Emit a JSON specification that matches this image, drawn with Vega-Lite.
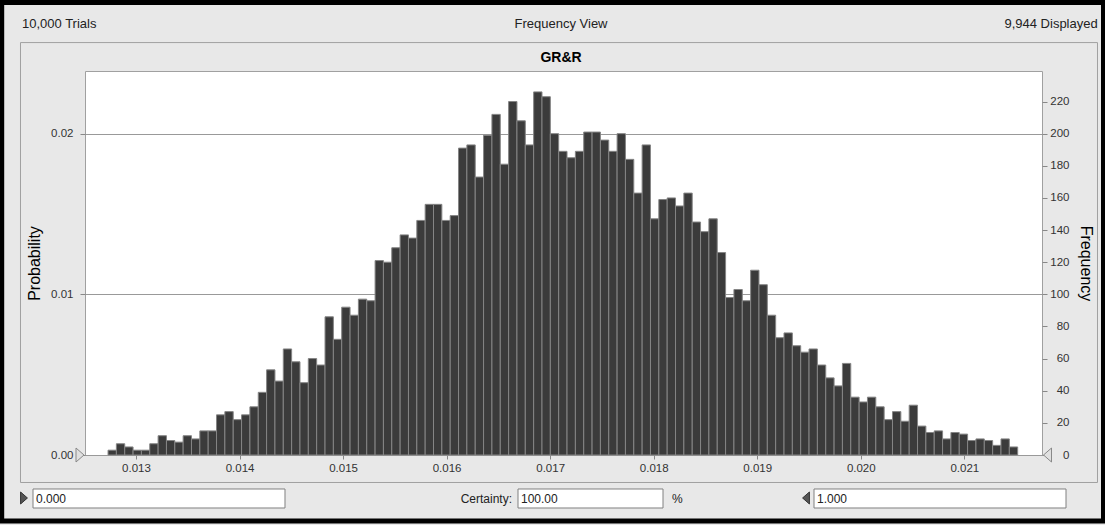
{
  "$schema": "https://vega.github.io/schema/vega-lite/v6.json",
  "width": 957,
  "height": 384,
  "autosize": {"type": "none"},
  "padding": {"left": 85, "top": 71, "right": 63, "bottom": 70},
  "background": "#e8e8e8",
  "view": {"fill": "white", "stroke": "#a0a0a0", "strokeWidth": 1},
  "config": {
    "font": "Liberation Sans",
    "scale": {"continuousPadding": 0},
    "axis": {"labelFont": "Liberation Sans", "titleFont": "Liberation Sans", "labelColor": "#333333", "titleColor": "#000000", "titleFontWeight": "normal", "tickColor": "#888888", "domain": false}
  },
  "data": {"values": [
    {"lo":0.0127300,"hi":0.0128106,"n":3},{"lo":0.0128106,"hi":0.0128912,"n":7},{"lo":0.0128912,"hi":0.0129718,"n":5},{"lo":0.0129718,"hi":0.0130524,"n":3},{"lo":0.0130524,"hi":0.0131330,"n":3},
    {"lo":0.0131330,"hi":0.0132136,"n":7},{"lo":0.0132136,"hi":0.0132942,"n":12},{"lo":0.0132942,"hi":0.0133748,"n":9},{"lo":0.0133748,"hi":0.0134554,"n":8},{"lo":0.0134554,"hi":0.0135360,"n":12},
    {"lo":0.0135360,"hi":0.0136166,"n":10},{"lo":0.0136166,"hi":0.0136972,"n":15},{"lo":0.0136972,"hi":0.0137778,"n":15},{"lo":0.0137778,"hi":0.0138584,"n":25},{"lo":0.0138584,"hi":0.0139390,"n":27},
    {"lo":0.0139390,"hi":0.0140196,"n":22},{"lo":0.0140196,"hi":0.0141002,"n":25},{"lo":0.0141002,"hi":0.0141808,"n":30},{"lo":0.0141808,"hi":0.0142614,"n":39},{"lo":0.0142614,"hi":0.0143420,"n":53},
    {"lo":0.0143420,"hi":0.0144226,"n":46},{"lo":0.0144226,"hi":0.0145032,"n":66},{"lo":0.0145032,"hi":0.0145838,"n":58},{"lo":0.0145838,"hi":0.0146644,"n":45},{"lo":0.0146644,"hi":0.0147450,"n":60},
    {"lo":0.0147450,"hi":0.0148256,"n":56},{"lo":0.0148256,"hi":0.0149062,"n":86},{"lo":0.0149062,"hi":0.0149868,"n":72},{"lo":0.0149868,"hi":0.0150674,"n":92},{"lo":0.0150674,"hi":0.0151480,"n":87},
    {"lo":0.0151480,"hi":0.0152286,"n":97},{"lo":0.0152286,"hi":0.0153092,"n":96},{"lo":0.0153092,"hi":0.0153898,"n":121},{"lo":0.0153898,"hi":0.0154704,"n":120},{"lo":0.0154704,"hi":0.0155510,"n":129},
    {"lo":0.0155510,"hi":0.0156316,"n":137},{"lo":0.0156316,"hi":0.0157122,"n":135},{"lo":0.0157122,"hi":0.0157928,"n":146},{"lo":0.0157928,"hi":0.0158734,"n":156},{"lo":0.0158734,"hi":0.0159540,"n":156},
    {"lo":0.0159540,"hi":0.0160346,"n":146},{"lo":0.0160346,"hi":0.0161152,"n":149},{"lo":0.0161152,"hi":0.0161958,"n":191},{"lo":0.0161958,"hi":0.0162764,"n":193},{"lo":0.0162764,"hi":0.0163570,"n":173},
    {"lo":0.0163570,"hi":0.0164376,"n":199},{"lo":0.0164376,"hi":0.0165182,"n":212},{"lo":0.0165182,"hi":0.0165988,"n":181},{"lo":0.0165988,"hi":0.0166794,"n":220},{"lo":0.0166794,"hi":0.0167600,"n":208},
    {"lo":0.0167600,"hi":0.0168406,"n":193},{"lo":0.0168406,"hi":0.0169212,"n":226},{"lo":0.0169212,"hi":0.0170018,"n":223},{"lo":0.0170018,"hi":0.0170824,"n":200},{"lo":0.0170824,"hi":0.0171630,"n":189},
    {"lo":0.0171630,"hi":0.0172436,"n":185},{"lo":0.0172436,"hi":0.0173242,"n":189},{"lo":0.0173242,"hi":0.0174048,"n":201},{"lo":0.0174048,"hi":0.0174854,"n":201},{"lo":0.0174854,"hi":0.0175660,"n":196},
    {"lo":0.0175660,"hi":0.0176466,"n":189},{"lo":0.0176466,"hi":0.0177272,"n":200},{"lo":0.0177272,"hi":0.0178078,"n":184},{"lo":0.0178078,"hi":0.0178884,"n":163},{"lo":0.0178884,"hi":0.0179690,"n":193},
    {"lo":0.0179690,"hi":0.0180496,"n":147},{"lo":0.0180496,"hi":0.0181302,"n":159},{"lo":0.0181302,"hi":0.0182108,"n":160},{"lo":0.0182108,"hi":0.0182914,"n":155},{"lo":0.0182914,"hi":0.0183720,"n":163},
    {"lo":0.0183720,"hi":0.0184526,"n":145},{"lo":0.0184526,"hi":0.0185332,"n":139},{"lo":0.0185332,"hi":0.0186138,"n":147},{"lo":0.0186138,"hi":0.0186944,"n":126},{"lo":0.0186944,"hi":0.0187750,"n":98},
    {"lo":0.0187750,"hi":0.0188556,"n":103},{"lo":0.0188556,"hi":0.0189362,"n":96},{"lo":0.0189362,"hi":0.0190168,"n":115},{"lo":0.0190168,"hi":0.0190974,"n":106},{"lo":0.0190974,"hi":0.0191780,"n":87},
    {"lo":0.0191780,"hi":0.0192586,"n":73},{"lo":0.0192586,"hi":0.0193392,"n":76},{"lo":0.0193392,"hi":0.0194198,"n":68},{"lo":0.0194198,"hi":0.0195004,"n":64},{"lo":0.0195004,"hi":0.0195810,"n":66},
    {"lo":0.0195810,"hi":0.0196616,"n":56},{"lo":0.0196616,"hi":0.0197422,"n":48},{"lo":0.0197422,"hi":0.0198228,"n":43},{"lo":0.0198228,"hi":0.0199034,"n":57},{"lo":0.0199034,"hi":0.0199840,"n":36},
    {"lo":0.0199840,"hi":0.0200646,"n":33},{"lo":0.0200646,"hi":0.0201452,"n":36},{"lo":0.0201452,"hi":0.0202258,"n":30},{"lo":0.0202258,"hi":0.0203064,"n":22},{"lo":0.0203064,"hi":0.0203870,"n":27},
    {"lo":0.0203870,"hi":0.0204676,"n":21},{"lo":0.0204676,"hi":0.0205482,"n":31},{"lo":0.0205482,"hi":0.0206288,"n":18},{"lo":0.0206288,"hi":0.0207094,"n":14},{"lo":0.0207094,"hi":0.0207900,"n":15},
    {"lo":0.0207900,"hi":0.0208706,"n":10},{"lo":0.0208706,"hi":0.0209512,"n":14},{"lo":0.0209512,"hi":0.0210318,"n":13},{"lo":0.0210318,"hi":0.0211124,"n":9},{"lo":0.0211124,"hi":0.0211930,"n":10},
    {"lo":0.0211930,"hi":0.0212736,"n":9},{"lo":0.0212736,"hi":0.0213542,"n":6},{"lo":0.0213542,"hi":0.0214348,"n":10},{"lo":0.0214348,"hi":0.0215154,"n":5}
  ]},
  "layer": [
    {
      "mark": {"type": "bar", "fill": "#3b3b3b", "stroke": "#858585", "strokeWidth": 1, "orient": "vertical"},
      "encoding": {
        "x": {"field": "lo", "type": "quantitative", "scale": {"domain": [0.0125075, 0.0217503], "nice": false, "zero": false, "padding": 0},
              "axis": {"orient": "bottom", "values": [0.013, 0.014, 0.015, 0.016, 0.017, 0.018, 0.019, 0.02, 0.021], "format": ".3f", "title": null, "tickSize": 4, "labelPadding": 3, "labelFontSize": 11.5, "grid": false}},
        "x2": {"field": "hi"},
        "y": {"field": "n", "type": "quantitative", "scale": {"domain": [0, 239], "nice": false, "zero": false, "padding": 0},
              "axis": {"orient": "left", "values": [0, 100, 200], "labelExpr": "format(datum.value / 10000, '.2f')", "title": "Probability", "titleFontSize": 16, "titlePadding": 8, "tickSize": 5, "labelPadding": 7, "labelFontSize": 11.5, "grid": true, "gridColor": "#999999"}},
        "y2": {"datum": 0}
      }
    },
    {
      "mark": {"type": "point", "opacity": 0},
      "encoding": {
        "x": {"field": "lo", "type": "quantitative", "scale": {"domain": [0.0125075, 0.0217503], "nice": false, "zero": false, "padding": 0}, "axis": null},
        "y": {"field": "n", "type": "quantitative", "scale": {"domain": [0, 239], "nice": false, "zero": false, "padding": 0},
              "axis": {"orient": "right", "values": [0, 20, 40, 60, 80, 100, 120, 140, 160, 180, 200, 220], "title": "Frequency", "titleFontSize": 16, "titlePadding": 8, "tickSize": 5, "labelAlign": "right", "labelPadding": 22, "labelFontSize": 11.5, "grid": false}}
      }
    },
    {
      "data": {"values": [{}]},
      "layer": [
        {"mark": {"type": "rect", "fillOpacity": 0, "stroke": "#000", "strokeWidth": 5, "clip": false},
         "encoding": {
           "x": {"datum": 0.0117030, "type": "quantitative", "scale": {"domain": [0.0125075, 0.0217503], "nice": false, "zero": false, "padding": 0}, "axis": null},
           "x2": {"datum": 0.0223443},
           "y": {"datum": 281.6, "type": "quantitative", "scale": {"domain": [0, 239], "nice": false, "zero": false, "padding": 0}, "axis": null},
           "y2": {"datum": -41.1}}},
        {"mark": {"type": "rect", "fillOpacity": 0, "stroke": "#a0a0a0", "strokeWidth": 1, "clip": false},
         "encoding": {
           "x": {"datum": 0.01188455, "type": "quantitative", "scale": {"domain": [0.0125075, 0.0217503], "nice": false, "zero": false, "padding": 0}, "axis": null},
           "x2": {"datum": 0.0222863},
           "y": {"datum": 256.69, "type": "quantitative", "scale": {"domain": [0, 239], "nice": false, "zero": false, "padding": 0}, "axis": null},
           "y2": {"datum": -17.11}}},
        {"mark": {"type": "text", "text": "10,000 Trials", "align": "left", "baseline": "alphabetic", "fontSize": 13, "color": "#222"},
         "encoding": {
           "x": {"datum": 0.011899, "type": "quantitative", "scale": {"domain": [0.0125075, 0.0217503], "nice": false, "zero": false, "padding": 0}, "axis": null},
           "y": {"datum": 265.7, "type": "quantitative", "scale": {"domain": [0, 239], "nice": false, "zero": false, "padding": 0}, "axis": null}}},
        {"mark": {"type": "text", "text": "Frequency View", "align": "center", "baseline": "alphabetic", "fontSize": 13, "color": "#222"},
         "encoding": {
           "x": {"datum": 0.0171048, "type": "quantitative", "scale": {"domain": [0.0125075, 0.0217503], "nice": false, "zero": false, "padding": 0}, "axis": null},
           "y": {"datum": 265.7, "type": "quantitative", "scale": {"domain": [0, 239], "nice": false, "zero": false, "padding": 0}, "axis": null}}},
        {"mark": {"type": "text", "text": "9,944 Displayed", "align": "right", "baseline": "alphabetic", "fontSize": 13, "color": "#222"},
         "encoding": {
           "x": {"datum": 0.0222882, "type": "quantitative", "scale": {"domain": [0.0125075, 0.0217503], "nice": false, "zero": false, "padding": 0}, "axis": null},
           "y": {"datum": 265.7, "type": "quantitative", "scale": {"domain": [0, 239], "nice": false, "zero": false, "padding": 0}, "axis": null}}},
        {"mark": {"type": "text", "text": "GR&R", "align": "center", "baseline": "alphabetic", "fontSize": 14, "fontWeight": "bold", "color": "#000"},
         "encoding": {
           "x": {"datum": 0.0171048, "type": "quantitative", "scale": {"domain": [0.0125075, 0.0217503], "nice": false, "zero": false, "padding": 0}, "axis": null},
           "y": {"datum": 244.55, "type": "quantitative", "scale": {"domain": [0, 239], "nice": false, "zero": false, "padding": 0}, "axis": null}}},
        {"mark": {"type": "point", "shape": "M-0.57,-1L0.57,0L-0.57,1Z", "size": 196, "filled": true, "fill": "#e0e0e0", "stroke": "#888", "strokeWidth": 1, "opacity": 1, "clip": false},
         "encoding": {
           "x": {"datum": 0.0124592, "type": "quantitative", "scale": {"domain": [0.0125075, 0.0217503], "nice": false, "zero": false, "padding": 0}, "axis": null},
           "y": {"datum": 0, "type": "quantitative", "scale": {"domain": [0, 239], "nice": false, "zero": false, "padding": 0}, "axis": null}}},
        {"mark": {"type": "point", "shape": "M0.57,-1L-0.57,0L0.57,1Z", "size": 196, "filled": true, "fill": "#e0e0e0", "stroke": "#888", "strokeWidth": 1, "opacity": 1, "clip": false},
         "encoding": {
           "x": {"datum": 0.0218034, "type": "quantitative", "scale": {"domain": [0.0125075, 0.0217503], "nice": false, "zero": false, "padding": 0}, "axis": null},
           "y": {"datum": 0, "type": "quantitative", "scale": {"domain": [0, 239], "nice": false, "zero": false, "padding": 0}, "axis": null}}},
        {"mark": {"type": "rect", "fill": "white", "stroke": "#808080", "strokeWidth": 1, "clip": false},
         "encoding": {
           "x": {"datum": 0.0120053, "type": "quantitative", "scale": {"domain": [0.0125075, 0.0217503], "nice": false, "zero": false, "padding": 0}, "axis": null},
           "x2": {"datum": 0.0144391},
           "y": {"datum": -21.16, "type": "quantitative", "scale": {"domain": [0, 239], "nice": false, "zero": false, "padding": 0}, "axis": null},
           "y2": {"datum": -32.98}}},
        {"mark": {"type": "rect", "fill": "white", "stroke": "#808080", "strokeWidth": 1, "clip": false},
         "encoding": {
           "x": {"datum": 0.0166895, "type": "quantitative", "scale": {"domain": [0.0125075, 0.0217503], "nice": false, "zero": false, "padding": 0}, "axis": null},
           "x2": {"datum": 0.0180899},
           "y": {"datum": -21.16, "type": "quantitative", "scale": {"domain": [0, 239], "nice": false, "zero": false, "padding": 0}, "axis": null},
           "y2": {"datum": -32.98}}},
        {"mark": {"type": "rect", "fill": "white", "stroke": "#808080", "strokeWidth": 1, "clip": false},
         "encoding": {
           "x": {"datum": 0.0195483, "type": "quantitative", "scale": {"domain": [0.0125075, 0.0217503], "nice": false, "zero": false, "padding": 0}, "axis": null},
           "x2": {"datum": 0.0219821},
           "y": {"datum": -21.16, "type": "quantitative", "scale": {"domain": [0, 239], "nice": false, "zero": false, "padding": 0}, "axis": null},
           "y2": {"datum": -32.98}}},
        {"mark": {"type": "text", "text": "0.000", "align": "left", "baseline": "alphabetic", "fontSize": 12, "color": "#222"},
         "encoding": {
           "x": {"datum": 0.0120343, "type": "quantitative", "scale": {"domain": [0.0125075, 0.0217503], "nice": false, "zero": false, "padding": 0}, "axis": null},
           "y": {"datum": -29.87, "type": "quantitative", "scale": {"domain": [0, 239], "nice": false, "zero": false, "padding": 0}, "axis": null}}},
        {"mark": {"type": "text", "text": "100.00", "align": "left", "baseline": "alphabetic", "fontSize": 12, "color": "#222"},
         "encoding": {
           "x": {"datum": 0.0167184, "type": "quantitative", "scale": {"domain": [0.0125075, 0.0217503], "nice": false, "zero": false, "padding": 0}, "axis": null},
           "y": {"datum": -29.87, "type": "quantitative", "scale": {"domain": [0, 239], "nice": false, "zero": false, "padding": 0}, "axis": null}}},
        {"mark": {"type": "text", "text": "1.000", "align": "left", "baseline": "alphabetic", "fontSize": 12, "color": "#222"},
         "encoding": {
           "x": {"datum": 0.0195772, "type": "quantitative", "scale": {"domain": [0.0125075, 0.0217503], "nice": false, "zero": false, "padding": 0}, "axis": null},
           "y": {"datum": -29.87, "type": "quantitative", "scale": {"domain": [0, 239], "nice": false, "zero": false, "padding": 0}, "axis": null}}},
        {"mark": {"type": "text", "text": "Certainty:", "align": "right", "baseline": "alphabetic", "fontSize": 12, "color": "#222"},
         "encoding": {
           "x": {"datum": 0.0166315, "type": "quantitative", "scale": {"domain": [0.0125075, 0.0217503], "nice": false, "zero": false, "padding": 0}, "axis": null},
           "y": {"datum": -29.87, "type": "quantitative", "scale": {"domain": [0, 239], "nice": false, "zero": false, "padding": 0}, "axis": null}}},
        {"mark": {"type": "text", "text": "%", "align": "left", "baseline": "alphabetic", "fontSize": 12, "color": "#222"},
         "encoding": {
           "x": {"datum": 0.0181768, "type": "quantitative", "scale": {"domain": [0.0125075, 0.0217503], "nice": false, "zero": false, "padding": 0}, "axis": null},
           "y": {"datum": -29.87, "type": "quantitative", "scale": {"domain": [0, 239], "nice": false, "zero": false, "padding": 0}, "axis": null}}},
        {"mark": {"type": "point", "shape": "M-0.57,-1L0.57,0L-0.57,1Z", "size": 144, "filled": true, "fill": "#555", "stroke": "#333", "strokeWidth": 1, "opacity": 1, "clip": false},
         "encoding": {
           "x": {"datum": 0.0119184, "type": "quantitative", "scale": {"domain": [0.0125075, 0.0217503], "nice": false, "zero": false, "padding": 0}, "axis": null},
           "y": {"datum": -26.76, "type": "quantitative", "scale": {"domain": [0, 239], "nice": false, "zero": false, "padding": 0}, "axis": null}}},
        {"mark": {"type": "point", "shape": "M0.57,-1L-0.57,0L0.57,1Z", "size": 144, "filled": true, "fill": "#555", "stroke": "#333", "strokeWidth": 1, "opacity": 1, "clip": false},
         "encoding": {
           "x": {"datum": 0.019471, "type": "quantitative", "scale": {"domain": [0.0125075, 0.0217503], "nice": false, "zero": false, "padding": 0}, "axis": null},
           "y": {"datum": -26.76, "type": "quantitative", "scale": {"domain": [0, 239], "nice": false, "zero": false, "padding": 0}, "axis": null}}}
      ]
    }
  ],
  "resolve": {"axis": {"x": "independent", "y": "independent"}}
}
